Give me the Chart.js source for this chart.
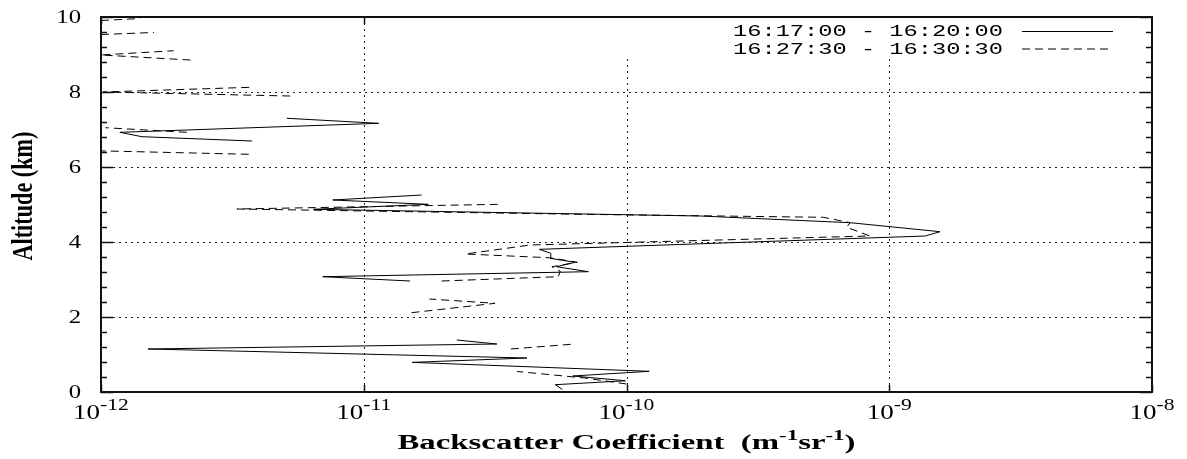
<!DOCTYPE html>
<html>
<head>
<meta charset="utf-8">
<script src="https://cdn.jsdelivr.net/npm/chart.js@4.4.1/dist/chart.umd.min.js"></script>
<style>
  html, body { margin: 0; padding: 0; background: #fff; }
  canvas { display: block; }
</style>
</head>
<body>
<canvas id="profile" width="1187" height="459"></canvas>
<script>
// backscatter profiles, altitude in km, beta in m^-1 sr^-1 (null = no valid sample)
const seriesLabels = ["16:17:00 - 16:20:00", "16:27:30 - 16:30:30"];

const altSolid = [0.07, 0.195, 0.30, 0.427, 0.552, 0.79, 0.907, 1.147, 1.28, 1.387, null,
  2.96, 3.075, 3.208, 3.341, 3.459, 3.565, 3.699, 3.805, 4.16, 4.275, 4.515, 4.693, 4.872,
  5.005, 5.12, 5.253, null, 6.693, 6.808, 6.925, 7.165, 7.299];
const betaSolid = [5.7e-11, 5.36e-11, 9.9e-11, 6.25e-11, 1.22e-10, 1.53e-11, 4.18e-11, 1.51e-12, 3.21e-11, 2.26e-11, null,
  1.50e-11, 6.98e-12, 7.16e-11, 5.42e-11, 6.37e-11, 5.12e-11, 5.15e-11, 4.66e-11, 1.37e-9, 1.56e-9, 7.10e-10, 1.91e-10, 6.43e-12,
  1.76e-11, 7.62e-12, 1.66e-11, null, 3.76e-12, 1.43e-12, 1.18e-12, 1.14e-11, 5.10e-12];

const altDashed = [0.213, 0.373, 0.547, null, 1.147, 1.272, null, 2.115, 2.365, 2.48, null,
  2.96, 3.075, 3.22, 3.34, 3.46, 3.58, 3.68, 3.92, 4.16, 4.392, 4.515, 4.659, 4.739, 4.88, 5.005, null,
  6.339, 6.43, null, 6.925, 7.048, null, 7.893, 8.0, 8.125, null, 8.853, 8.987, 9.101, null,
  9.533, 9.587, null, 9.907, 9.96];
const betaDashed = [1.0e-10, 6.95e-11, 3.83e-11, null, 3.63e-11, 6.15e-11, null, 1.52e-11, 3.16e-11, 1.78e-11, null,
  1.98e-11, 5.50e-11, 5.6e-11, 5.2e-11, 6.5e-11, 5.1e-11, 2.44e-11, 4.30e-11, 8.45e-10, 6.88e-10, 7.10e-10, 5.61e-10, 6.65e-11, 3.29e-12, 3.28e-11, null,
  3.65e-12, 1.0e-12, null, 2.12e-12, 1.04e-12, null, 5.25e-12, 1.02e-12, 3.70e-12, null, 2.19e-12, 1.0e-12, 1.89e-12, null,
  1.0e-12, 1.59e-12, null, 1.0e-12, 1.41e-12];

// axis ticks
const xTicks = [1e-12, 1e-11, 1e-10, 1e-9, 1e-8];
const xTickExp = ["-12", "-11", "-10", "-9", "-8"];
const yTicks = [0, 2, 4, 6, 8, 10];
const yMinorStep = 0.4;

const SERIF = "'Liberation Serif', 'Times New Roman', serif";
const MONO = "'Liberation Mono', 'Courier New', monospace";
const DASH = [8, 5];

function toPoints(alt, beta) {
  return alt.map((a, i) => ({ x: beta[i], y: a }));
}

// draws a run of text pieces (with optional raised pieces) squeezed horizontally by sx
function drawRun(ctx, parts, x, y, sx, align) {
  let w = 0;
  parts.forEach(p => { ctx.font = p.font; p.w = ctx.measureText(p.t).width; w += p.w; });
  ctx.save();
  ctx.translate(x, y);
  ctx.scale(sx, 1);
  ctx.textAlign = "left";
  ctx.textBaseline = "alphabetic";
  let cx = align === "right" ? -w : align === "center" ? -w / 2 : 0;
  parts.forEach(p => { ctx.font = p.font; ctx.fillText(p.t, cx, p.dy || 0); cx += p.w; });
  ctx.restore();
  return w * sx;
}

const frame = {
  id: "frame",
  beforeDatasetsDraw(chart) {
    const { ctx, chartArea: a, scales: { x, y } } = chart;
    ctx.save();
    ctx.strokeStyle = "#222";
    ctx.lineWidth = 1;
    ctx.setLineDash([2, 4]);
    ctx.beginPath();
    yTicks.slice(1, -1).forEach(v => {
      const py = Math.round(y.getPixelForValue(v)) + 0.5;
      ctx.moveTo(a.left, py); ctx.lineTo(a.right, py);
    });
    xTicks.slice(1, -1).forEach(v => {
      const px = Math.round(x.getPixelForValue(v)) + 0.5;
      ctx.moveTo(px, a.top); ctx.lineTo(px, a.bottom);
    });
    ctx.stroke();
    ctx.setLineDash([]);
    // key area blanks the grid behind it
    ctx.fillStyle = "#fff";
    ctx.fillRect(610, a.top + 1, a.right - 611, 40);
    ctx.restore();
  },
  afterDatasetsDraw(chart) {
    const { ctx, chartArea: a, scales: { x, y } } = chart;
    ctx.save();
    ctx.fillStyle = "#000";
    ctx.strokeStyle = "#111";

    // ticks, inward on all sides
    ctx.lineWidth = 1.5;
    ctx.beginPath();
    for (let v = 0; v <= 10.001; v += yMinorStep) {
      const py = Math.round(y.getPixelForValue(v)) + 0.5;
      const major = Math.abs(v / 2 - Math.round(v / 2)) < 1e-6;
      const len = major ? 12 : 6;
      ctx.moveTo(a.left, py); ctx.lineTo(a.left + len, py);
      ctx.moveTo(a.right, py); ctx.lineTo(a.right - len, py);
    }
    xTicks.forEach(v => {
      const px = Math.round(x.getPixelForValue(v)) + 0.5;
      ctx.moveTo(px, a.bottom); ctx.lineTo(px, a.bottom - 7);
      if (px < 610) { ctx.moveTo(px, a.top); ctx.lineTo(px, a.top + 7); }
    });
    ctx.stroke();

    // frame
    ctx.lineWidth = 2;
    ctx.strokeRect(a.left, a.top, a.right - a.left, a.bottom - a.top);

    // y tick labels
    ctx.textBaseline = "alphabetic";
    yTicks.forEach(v => {
      const py = y.getPixelForValue(v);
      drawRun(ctx, [{ t: String(v), font: "19px " + SERIF }], a.left - 20, py + 6, 1.3, "right");
    });

    // x tick labels 10^n
    xTicks.forEach((v, i) => {
      const px = x.getPixelForValue(v);
      drawRun(ctx, [
        { t: "10", font: "20px " + SERIF },
        { t: xTickExp[i], font: "16px " + SERIF, dy: -9 }
      ], px, a.bottom + 27, 1.35, "center");
    });

    // axis titles
    const xt = [
      { t: "Backscatter Coefficient  (m", font: "bold 20px " + SERIF },
      { t: "-1", font: "bold 14px " + SERIF, dy: -9 },
      { t: "sr", font: "bold 20px " + SERIF },
      { t: "-1", font: "bold 14px " + SERIF, dy: -9 },
      { t: ")", font: "bold 20px " + SERIF }
    ];
    let w = 0;
    xt.forEach(p => { ctx.font = p.font; w += ctx.measureText(p.t).width; });
    drawRun(ctx, xt, (a.left + a.right) / 2, 449, 458 / w, "center");

    ctx.save();
    ctx.translate(24, 196);
    ctx.rotate(-Math.PI / 2);
    ctx.font = "bold 22px " + SERIF;
    const tw = ctx.measureText("Altitude (km)").width;
    ctx.scale(129 / tw, 1.35);
    ctx.textAlign = "center";
    ctx.textBaseline = "middle";
    ctx.fillText("Altitude (km)", 0, 0);
    ctx.restore();

    // key
    const rows = [31, 48.5];
    chart.data.datasets.forEach((ds, i) => {
      ctx.font = "16px " + MONO;
      const mw = ctx.measureText(seriesLabels[i]).width;
      drawRun(ctx, [{ t: seriesLabels[i], font: "16px " + MONO }], 1003, rows[i] + 5, 270 / mw, "right");
      ctx.save();
      ctx.strokeStyle = "#000";
      ctx.lineWidth = 1;
      ctx.setLineDash(ds.borderDash || []);
      ctx.beginPath();
      ctx.moveTo(1022, rows[i] + 0.5);
      ctx.lineTo(1113, rows[i] + 0.5);
      ctx.stroke();
      ctx.restore();
    });
    ctx.restore();
  }
};

new Chart(document.getElementById("profile"), {
  type: "scatter",
  data: {
    datasets: [
      {
        label: seriesLabels[0],
        data: toPoints(altSolid, betaSolid),
        showLine: true,
        spanGaps: false,
        borderColor: "#000",
        borderWidth: 1,
        pointRadius: 0,
      },
      {
        label: seriesLabels[1],
        data: toPoints(altDashed, betaDashed),
        showLine: true,
        spanGaps: false,
        borderColor: "#000",
        borderWidth: 1,
        borderDash: DASH,
        pointRadius: 0,
      },
    ],
  },
  options: {
    responsive: false,
    animation: false,
    layout: { padding: { left: 101, right: 35, top: 17, bottom: 67 } },
    plugins: { legend: { display: false }, tooltip: { enabled: false } },
    scales: {
      x: { type: "logarithmic", min: 1e-12, max: 1e-8, display: false },
      y: { type: "linear", min: 0, max: 10, display: false },
    },
  },
  plugins: [frame],
});
</script>
</body>
</html>
